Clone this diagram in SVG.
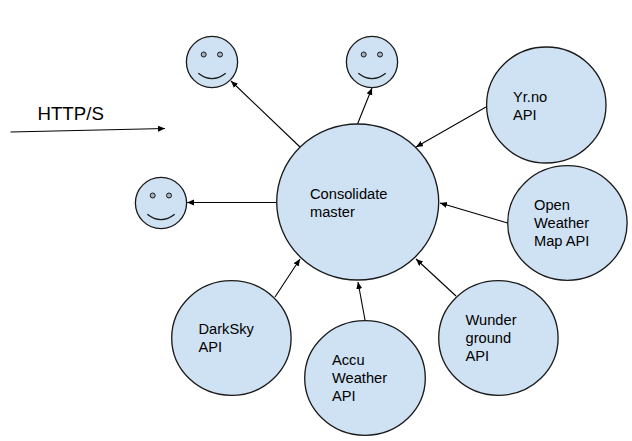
<svg xmlns="http://www.w3.org/2000/svg" width="632" height="441" viewBox="0 0 632 441">
<style>
text{font-family:"Liberation Sans",Arial,sans-serif;font-size:14.67px;fill:#000}
.n{fill:#cfe2f3;stroke:#1a1a1a;stroke-width:1.33}
.e{fill:#a5b1bd;stroke:#1a1a1a;stroke-width:1}
.m{fill:none;stroke:#1a1a1a;stroke-width:1.33}
.c{stroke:#000;stroke-width:1.1;fill:none;marker-end:url(#a)}
</style>
<defs><marker id="a" markerUnits="userSpaceOnUse" markerWidth="9" markerHeight="8" refX="7" refY="3" orient="auto"><path d="M0 0L7 3L0 6Z" fill="#000"/></marker></defs>
<rect width="632" height="441" fill="#fff"/>
<g id="connectors">
<path class="c" d="M300 147L231 81"/>
<path class="c" d="M357.5 124L372 88"/>
<path class="c" d="M276 202.500L187 202.500"/>
<path class="c" d="M486 107L416 147"/>
<path class="c" d="M507.500 223L440 203"/>
<path class="c" d="M456 296L416 259"/>
<path class="c" d="M365 320L358 282"/>
<path class="c" d="M275 297L300 259"/>
<path class="c" d="M10.500 132L165 128.500"/>
</g>
<text id="http-label" x="37.500" y="119.500" style="font-size:18.67px">HTTP/S</text>
<g id="user-1"><circle class="n" cx="212" cy="62" r="25.600"/><circle class="e" cx="203.700" cy="54.500" r="2.500"/><circle class="e" cx="220" cy="54.500" r="2.500"/><path class="m" d="M198.300 73.300Q212 84 225.700 73.300"/></g>
<g id="user-2"><circle class="n" cx="372" cy="62" r="25.600"/><circle class="e" cx="363.700" cy="54.500" r="2.500"/><circle class="e" cx="380" cy="54.500" r="2.500"/><path class="m" d="M358.300 73.300Q372 84 385.700 73.300"/></g>
<g id="user-3"><circle class="n" cx="161" cy="203" r="25.600"/><circle class="e" cx="152.700" cy="195.500" r="2.500"/><circle class="e" cx="169" cy="195.500" r="2.500"/><path class="m" d="M147.300 214.300Q161 225 174.700 214.300"/></g>
<g id="master"><ellipse class="n" cx="357.700" cy="202" rx="81" ry="78"/><text x="310" y="199">Consolidate</text><text x="310" y="217">master</text></g>
<g id="yrno"><ellipse class="n" cx="546.300" cy="105" rx="59.700" ry="58"/><text x="513" y="102">Yr.no</text><text x="513" y="120">API</text></g>
<g id="openweather"><ellipse class="n" cx="567.400" cy="223" rx="59.700" ry="57.300"/><text x="534" y="210">Open</text><text x="534" y="228">Weather</text><text x="534" y="246">Map API</text></g>
<g id="wunderground"><ellipse class="n" cx="498.400" cy="338" rx="59.700" ry="57.300"/><text x="465.500" y="325">Wunder</text><text x="465.500" y="343">ground</text><text x="465.500" y="361">API</text></g>
<g id="accuweather"><ellipse class="n" cx="365" cy="378" rx="60.300" ry="57.300"/><text x="332" y="365">Accu</text><text x="332" y="383">Weather</text><text x="332" y="401">API</text></g>
<g id="darksky"><ellipse class="n" cx="231.400" cy="338" rx="59.700" ry="57.300"/><text x="198.500" y="334">DarkSky</text><text x="198.500" y="352">API</text></g>
</svg>
